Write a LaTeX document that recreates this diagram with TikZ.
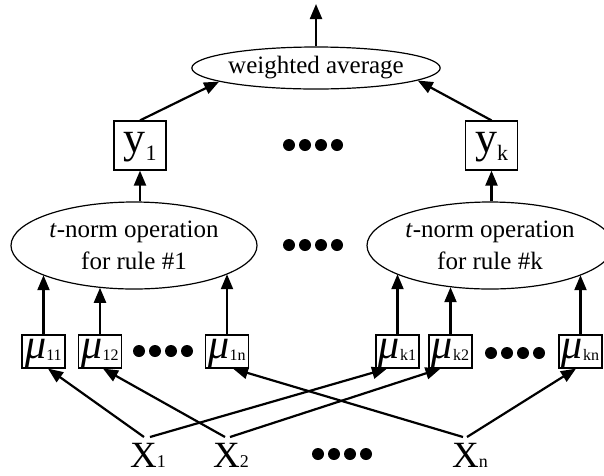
\documentclass[tikz,border=0pt]{standalone}
\usepackage{fontspec}
\setmainfont{Liberation Serif}
\usetikzlibrary{arrows.meta,shapes.geometric,calc}
\newcommand\mulab[1]{{\fontsize{42}{42}\selectfont\itshape μ}\raisebox{-2pt}{\fontsize{16}{16}\selectfont #1}}
\newcommand\ylab[1]{{\fontsize{44}{44}\selectfont y}\raisebox{-8pt}{\fontsize{22}{22}\selectfont #1}}
\newcommand\xlab[1]{{\fontsize{37}{37}\selectfont X}{\fontsize{18}{18}\selectfont #1}}
\begin{document}
\begin{tikzpicture}[x=1pt,y=-1pt,
  arr/.style={line width=2.2pt,-{Triangle[length=15pt,width=12pt]}},
  box/.style={draw,line width=1.2pt,inner sep=0pt},
  mubox/.style={box,minimum width=43pt,minimum height=33pt,text height=19pt,text depth=6pt},
  ybox/.style={box,minimum width=52pt,minimum height=49pt,text height=22pt,text depth=9pt},
  ell/.style={draw,ellipse,line width=1.2pt,inner sep=0pt,align=center,font=\fontsize{25}{31.5}\selectfont},
  dot/.style={fill=black},
]
\useasboundingbox (0,0) rectangle (604,475);

% top
\node[ell,minimum width=234pt,minimum height=42pt] (wa) at (316,68) {weighted average};
\coordinate (out) at (316,4);
\draw[arr] (wa.north) -- (out);

% y boxes
\node[ybox] (y1) at (140,145.5) {\ylab{1}};
\node[ybox] (yk) at (491.5,145.5) {\ylab{k}};
\draw[arr] (y1.north) -- (wa.188.4);
\draw[arr] (yk.north) -- (wa.353);

% t-norm ellipses
\node[ell,minimum width=246pt,minimum height=87pt] (e1) at (134,245.5) {\textit{t}-norm operation\\for rule \#1};
\node[ell,minimum width=246pt,minimum height=87pt] (e2) at (490,245.5) {\textit{t}-norm operation\\for rule \#k};
\draw[arr] (y1.south |- e1.north) -- (y1.south);
\draw[arr] (yk.south |- e2.north) -- (yk.south);

% membership boxes
\node[mubox] (m11) at (43.5,351.5) {\mulab{11}};
\node[mubox] (m12) at (100,351.5) {\mulab{12}};
\node[mubox] (m1n) at (227,351.5) {\mulab{1n}};
\node[mubox] (mk1) at (397.5,351.5) {\mulab{k1}};
\node[mubox] (mk2) at (450.5,351.5) {\mulab{k2}};
\node[mubox] (mkn) at (580.5,351.5) {\mulab{kn}};

\draw[arr] (m11.north) -- (m11.north |- e1.198);
\draw[arr] (m12.north) -- (m12.north |- e1.230.9);
\draw[arr] (m1n.north) -- (m1n.north |- e1.343);
\draw[arr] (mk1.north) -- (mk1.north |- e2.197.2);
\draw[arr] (mk2.north) -- (mk2.north |- e2.226.2);
\draw[arr] (mkn.north) -- (mkn.north |- e2.342);

% inputs
\node[anchor=base west,inner sep=0pt] (X1) at (130,467) {\xlab{1}};
\node[anchor=base west,inner sep=0pt] (X2) at (213,467) {\xlab{2}};
\node[anchor=base west,inner sep=0pt] (Xn) at (452,467) {\xlab{n}};
\coordinate (x1l) at (144,437);
\coordinate (x1r) at (150,437);
\coordinate (x2l) at (225,437);
\coordinate (x2r) at (230,437);
\coordinate (xnl) at (463,437);
\coordinate (xnr) at (467,437);

\draw[arr] (x1l) -- ($(m11.south)+(4.5,0)$);
\draw[arr] (x1r) -- ($(mk1.south)+(-10.5,0)$);
\draw[arr] (x2l) -- ($(m12.south)+(3,0)$);
\draw[arr] (x2r) -- ($(mk2.south)+(-10,0)$);
\draw[arr] (xnl) -- ($(m1n.south)+(6,0)$);
\draw[arr] (xnr) -- ($(mkn.south)+(-4.5,0)$);

% ellipsis dots
\foreach \cx/\cy in {289/145, 289/245, 139/351, 491/353, 318/454}
  \foreach \i in {0,...,3}
    \fill[dot] (\cx+16*\i,\cy) circle (6pt);
\end{tikzpicture}
\end{document}
